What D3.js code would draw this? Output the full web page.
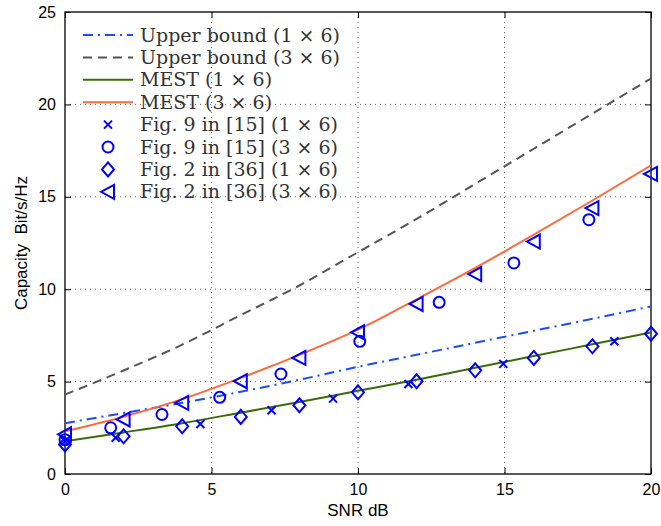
<!DOCTYPE html>
<html>
<head>
<meta charset="utf-8">
<script src="https://cdn.jsdelivr.net/npm/d3@7/dist/d3.min.js"></script>
<style>
  html, body { margin: 0; padding: 0; background: #fff; }
  svg { display: block; }
</style>
</head>
<body>
<svg id="chart" width="661" height="526"></svg>
<script>
// SNR grid (dB) for the analytic curves
const snrGrid = [0, 2, 4, 6, 8, 10, 12, 14, 16, 18, 20];

// Analytic curves (capacity, bit/s/Hz)
const upperBound1x6 = [2.75, 3.3, 3.85, 4.45, 5.1, 5.8, 6.45, 7.1, 7.75, 8.4, 9.07];
const upperBound3x6 = [4.3, 5.6, 7.0, 8.6, 10.2, 12.0, 13.8, 15.7, 17.6, 19.5, 21.4];
const mest1x6 = [1.77, 2.25, 2.75, 3.32, 3.9, 4.5, 5.1, 5.75, 6.38, 7.02, 7.66];
const mest3x6 = [2.31, 3.1, 4.05, 5.2, 6.45, 7.81, 9.45, 11.15, 12.95, 14.8, 16.7];

// Reference results: Fig. 9 in [15]
const ref15SnrA = [0, 1.73, 4.62, 7.05, 9.15, 11.72, 14.96, 18.75];
const ref15Cap1x6 = [1.78, 1.96, 2.71, 3.45, 4.08, 4.87, 5.96, 7.18];
const ref15SnrB = [0, 1.56, 3.31, 5.28, 7.37, 10.06, 12.77, 15.32, 17.88];
const ref15Cap3x6 = [1.86, 2.5, 3.22, 4.15, 5.41, 7.18, 9.29, 11.42, 13.76];

// Reference results: Fig. 2 in [36]
const ref36Snr = [0, 2, 4, 6, 8, 10, 12, 14, 16, 18, 20];
const ref36Cap1x6 = [1.6, 2.04, 2.58, 3.09, 3.72, 4.42, 5.02, 5.61, 6.28, 6.91, 7.59];
const ref36Cap3x6 = [2.15, 2.95, 3.85, 5.02, 6.28, 7.67, 9.2, 10.82, 12.58, 14.39, 16.24];

// Axis ticks
const xTicks = [0, 5, 10, 15, 20];
const yTicks = [0, 5, 10, 15, 20, 25];

const legendLabels = [
  "Upper bound (1 \u00d7 6)",
  "Upper bound (3 \u00d7 6)",
  "MEST (1 \u00d7 6)",
  "MEST (3 \u00d7 6)",
  "Fig. 9 in [15] (1 \u00d7 6)",
  "Fig. 9 in [15] (3 \u00d7 6)",
  "Fig. 2 in [36] (1 \u00d7 6)",
  "Fig. 2 in [36] (3 \u00d7 6)"
];

const W = 661, H = 526;
const margin = { left: 65, right: 10, top: 12, bottom: 52 };
const iw = W - margin.left - margin.right;
const ih = H - margin.top - margin.bottom;

const svg = d3.select("#chart");
const g = svg.append("g").attr("transform", `translate(${margin.left},${margin.top})`);

const x = d3.scaleLinear().domain([0, 20]).range([0, iw]);
const y = d3.scaleLinear().domain([0, 25]).range([ih, 0]);

const sansFont = "'Liberation Sans', Arial, sans-serif";
const serifFont = "'DejaVu Serif', serif";

// dotted grid
const grid = g.append("g");
grid.selectAll("line.gx").data(xTicks.slice(1, -1)).join("line")
  .attr("x1", d => x(d)).attr("x2", d => x(d))
  .attr("y1", 0).attr("y2", ih)
  .attr("stroke", "#666").attr("stroke-width", 1)
  .attr("stroke-dasharray", "1,4");
grid.selectAll("line.gy").data(yTicks.slice(1, -1)).join("line")
  .attr("y1", d => y(d)).attr("y2", d => y(d))
  .attr("x1", 0).attr("x2", iw)
  .attr("stroke", "#666").attr("stroke-width", 1)
  .attr("stroke-dasharray", "1,4");

// axes with inward ticks, mirrored on top/right
const tickLen = 6;
const xAxis = d3.axisBottom(x).tickValues(xTicks).tickSizeInner(-tickLen).tickSizeOuter(0).tickPadding(10);
const yAxis = d3.axisLeft(y).tickValues(yTicks).tickSizeInner(-tickLen).tickSizeOuter(0).tickPadding(9);
const xAxisTop = d3.axisTop(x).tickValues(xTicks).tickSizeInner(-tickLen).tickSizeOuter(0).tickFormat("");
const yAxisRight = d3.axisRight(y).tickValues(yTicks).tickSizeInner(-tickLen).tickSizeOuter(0).tickFormat("");

function styleAxis(sel) {
  sel.select(".domain").remove();
  sel.selectAll(".tick line").attr("stroke", "#000").attr("stroke-width", 1);
  sel.selectAll(".tick text").attr("fill", "#000").style("font-family", sansFont).style("font-size", "16px");
}
g.append("g").attr("transform", `translate(0,${ih})`).call(xAxis).call(styleAxis);
g.append("g").call(yAxis).call(styleAxis);
g.append("g").call(xAxisTop).call(styleAxis);
g.append("g").attr("transform", `translate(${iw},0)`).call(yAxisRight).call(styleAxis);

// box
g.append("rect").attr("x", 0).attr("y", 0).attr("width", iw).attr("height", ih)
  .attr("fill", "none").attr("stroke", "#000").attr("stroke-width", 1.3);

// axis titles
svg.append("text")
  .attr("x", margin.left + iw / 2).attr("y", 516)
  .attr("text-anchor", "middle")
  .style("font-family", sansFont).style("font-size", "17px").attr("fill", "#000")
  .text("SNR dB");
svg.append("text")
  .attr("transform", `translate(27,${margin.top + ih / 2}) rotate(-90)`)
  .attr("text-anchor", "middle")
  .style("font-family", sansFont).style("font-size", "17px").attr("fill", "#000")
  .attr("xml:space", "preserve")
  .text("Capacity  Bit/s/Hz");

// curve styles
const lineStyles = [
  { vals: upperBound1x6, color: "#1a4dff", width: 2, dash: "10,5,2,5" },
  { vals: upperBound3x6, color: "#555555", width: 2, dash: "9,6" },
  { vals: mest1x6, color: "#3b6b0a", width: 2, dash: null },
  { vals: mest3x6, color: "#ff6a3d", width: 2, dash: null }
];

const lineGen = d3.line()
  .x(d => x(d[0])).y(d => y(d[1]))
  .curve(d3.curveMonotoneX);

g.append("clipPath").attr("id", "plotclip")
  .append("rect").attr("x", 0).attr("y", 0).attr("width", iw).attr("height", ih);

const curves = g.append("g").attr("clip-path", "url(#plotclip)");
lineStyles.forEach(s => {
  curves.append("path")
    .datum(snrGrid.map((v, i) => [v, s.vals[i]]))
    .attr("d", lineGen)
    .attr("fill", "none")
    .attr("stroke", s.color)
    .attr("stroke-width", s.width)
    .attr("stroke-dasharray", s.dash);
});

// marker shapes
const markerColor = "#0000ff";
function drawMarker(sel, type) {
  sel.attr("fill", "none").attr("stroke", markerColor).attr("stroke-width", 2);
  if (type === "cross") {
    sel.append("path").attr("d", "M-4,-4L4,4M-4,4L4,-4");
  } else if (type === "circle") {
    sel.append("circle").attr("r", 5.5);
  } else if (type === "diamond") {
    sel.append("path").attr("d", "M0,-7L6,0L0,7L-6,0Z");
  } else if (type === "triangle") {
    sel.append("path").attr("d", "M-7,0L6,-7L6,7Z");
  }
}

const markerSets = [
  { xs: ref15SnrA, ys: ref15Cap1x6, type: "cross" },
  { xs: ref15SnrB, ys: ref15Cap3x6, type: "circle" },
  { xs: ref36Snr, ys: ref36Cap1x6, type: "diamond" },
  { xs: ref36Snr, ys: ref36Cap3x6, type: "triangle" }
];

const marks = g.append("g");
markerSets.forEach(ms => {
  ms.xs.forEach((v, i) => {
    const m = marks.append("g").attr("transform", `translate(${x(v)},${y(ms.ys[i])})`);
    drawMarker(m, ms.type);
  });
});

// legend (no frame)
const legend = svg.append("g");
const legendY0 = 35, legendStep = 22.4;
legendLabels.forEach((label, i) => {
  const ly = legendY0 + i * legendStep;
  if (i < 4) {
    const s = lineStyles[i];
    legend.append("line")
      .attr("x1", 83).attr("x2", 133).attr("y1", ly).attr("y2", ly)
      .attr("stroke", s.color).attr("stroke-width", s.width)
      .attr("stroke-dasharray", s.dash);
  } else {
    const m = legend.append("g").attr("transform", `translate(108,${ly})`);
    drawMarker(m, markerSets[i - 4].type);
  }
  legend.append("text")
    .attr("x", 140).attr("y", ly).attr("dy", "0.35em")
    .style("font-family", serifFont).style("font-size", "19px")
    .attr("fill", "#333")
    .text(label);
});
</script>
</body>
</html>
